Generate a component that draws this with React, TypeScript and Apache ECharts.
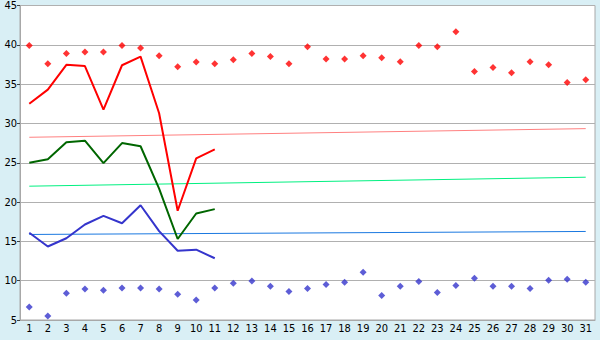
import React, { useEffect, useRef } from "react";
import * as echarts from "echarts";

const days = ["1","2","3","4","5","6","7","8","9","10","11","12","13","14","15","16","17","18","19","20","21","22","23","24","25","26","27","28","29","30","31"];
const recordHigh = [39.9, 37.6, 38.9, 39.1, 39.1, 39.9, 39.6, 38.6, 37.2, 37.8, 37.6, 38.1, 38.9, 38.5, 37.6, 39.75, 38.2, 38.2, 38.6, 38.35, 37.85, 39.9, 39.75, 41.65, 36.6, 37.1, 36.45, 37.85, 37.45, 35.2, 35.55];
const recordLow = [6.65, 5.5, 8.4, 8.94, 8.77, 9.06, 9.06, 8.94, 8.26, 7.54, 9.06, 9.66, 9.95, 9.28, 8.64, 9.02, 9.53, 9.79, 11.06, 8.13, 9.28, 9.91, 8.5, 9.4, 10.3, 9.28, 9.28, 9.02, 10.04, 10.17, 9.79];
const dailyMax = [32.5, 34.3, 37.45, 37.3, 31.75, 37.4, 38.5, 31.3, 18.9, 25.55, 26.7];
const dailyMean = [25.0, 25.45, 27.6, 27.8, 24.95, 27.5, 27.1, 21.7, 15.3, 18.55, 19.1];
const dailyMin = [16.1, 14.35, 15.4, 17.15, 18.25, 17.3, 19.6, 16.3, 13.8, 13.95, 12.85];
// normal values at first and last day (straight lines)
const normalMax = [28.24, 29.34];
const normalMean = [22.02, 23.16];
const normalMin = [15.88, 16.26];
const yTicks = { min: 5, max: 45, interval: 5 };

const FONT = "'DejaVu Sans Condensed', 'DejaVu Sans', Verdana, sans-serif";

export default function App() {
  const ref = useRef<HTMLDivElement>(null);
  useEffect(() => {
    if (!ref.current) return;
    const chart = echarts.init(ref.current, undefined, { renderer: "svg" });
    const first = days[0];
    const last = days[days.length - 1];
    const straight = (vals: number[]) => [[first, vals[0]], [last, vals[1]]];
    chart.setOption({
      animation: false,
      backgroundColor: "#d9eff5",
      grid: {
        left: 20, right: 5, top: 5, bottom: 20,
        show: true, backgroundColor: "#ffffff", borderColor: "#a8a8a8", borderWidth: 1,
      },
      xAxis: {
        type: "category",
        data: days,
        boundaryGap: true,
        axisLine: { lineStyle: { color: "#a8a8a8", width: 1 } },
        axisTick: { alignWithLabel: true, length: 4, lineStyle: { color: "#404040" } },
        axisLabel: { interval: 0, color: "#000", fontSize: 11, fontFamily: FONT, margin: 3 },
        splitLine: { show: false },
      },
      yAxis: {
        type: "value",
        min: yTicks.min, max: yTicks.max, interval: yTicks.interval,
        axisLine: { show: true, lineStyle: { color: "#a8a8a8", width: 1 } },
        axisTick: { show: true, length: 3, lineStyle: { color: "#404040" } },
        axisLabel: { color: "#000", fontSize: 11, fontFamily: FONT, margin: 3 },
        splitLine: { lineStyle: { color: "#b0b0b0", width: 1 } },
      },
      series: [
        { type: "line", data: straight(normalMax), showSymbol: false, lineStyle: { color: "#ff8080", width: 1 }, z: 1 },
        { type: "line", data: straight(normalMean), showSymbol: false, lineStyle: { color: "#00f080", width: 1 }, z: 1 },
        { type: "line", data: straight(normalMin), showSymbol: false, lineStyle: { color: "#1a78e0", width: 1 }, z: 1 },
        { type: "line", data: dailyMax, showSymbol: false, lineStyle: { color: "#ff0000", width: 2 }, z: 2 },
        { type: "line", data: dailyMean, showSymbol: false, lineStyle: { color: "#006600", width: 2 }, z: 2 },
        { type: "line", data: dailyMin, showSymbol: false, lineStyle: { color: "#3535cc", width: 2 }, z: 2 },
        { type: "scatter", data: recordHigh, symbol: "diamond", symbolSize: 7, itemStyle: { color: "#ff0000" }, z: 3 },
        { type: "scatter", data: recordLow, symbol: "diamond", symbolSize: 7, itemStyle: { color: "#3535cc" }, z: 3 },
      ],
    });
    return () => chart.dispose();
  }, []);
  return <div ref={ref} style={{ position: "fixed", left: 0, top: 0, width: 600, height: 340 }} />;
}
